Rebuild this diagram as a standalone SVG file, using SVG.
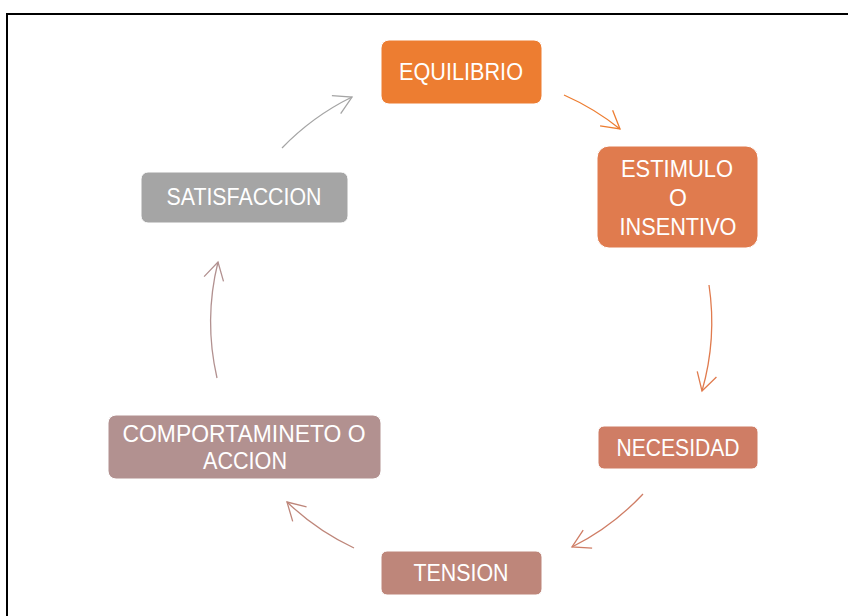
<svg xmlns="http://www.w3.org/2000/svg" width="849" height="616" viewBox="0 0 849 616">
<style>
.box{stroke:#ffffff;stroke-width:1}
.lbl{font-family:"Liberation Sans","Open Sans",Arial,sans-serif;font-size:23px;fill:#ffffff;text-anchor:middle}
.arc{fill:none;stroke-width:1.3}
</style>
<defs>
<marker id="m1" markerUnits="userSpaceOnUse" markerWidth="26" markerHeight="26" viewBox="-22 -13 26 26" refX="0" refY="0" orient="auto"><path d="M-17.5,-10 L0,0 L-17.5,10" fill="none" stroke="#ED7D31" stroke-width="1.3"/></marker>
<marker id="m2" markerUnits="userSpaceOnUse" markerWidth="26" markerHeight="26" viewBox="-22 -13 26 26" refX="0" refY="0" orient="auto"><path d="M-17.5,-10 L0,0 L-17.5,10" fill="none" stroke="#E07B4E" stroke-width="1.3"/></marker>
<marker id="m3" markerUnits="userSpaceOnUse" markerWidth="26" markerHeight="26" viewBox="-22 -13 26 26" refX="0" refY="0" orient="auto"><path d="M-17.5,-10 L0,0 L-17.5,10" fill="none" stroke="#CF7D65" stroke-width="1.3"/></marker>
<marker id="m4" markerUnits="userSpaceOnUse" markerWidth="26" markerHeight="26" viewBox="-22 -13 26 26" refX="0" refY="0" orient="auto"><path d="M-17.5,-10 L0,0 L-17.5,10" fill="none" stroke="#BE867A" stroke-width="1.3"/></marker>
<marker id="m5" markerUnits="userSpaceOnUse" markerWidth="26" markerHeight="26" viewBox="-22 -13 26 26" refX="0" refY="0" orient="auto"><path d="M-17.5,-10 L0,0 L-17.5,10" fill="none" stroke="#B29190" stroke-width="1.3"/></marker>
<marker id="m6" markerUnits="userSpaceOnUse" markerWidth="26" markerHeight="26" viewBox="-22 -13 26 26" refX="0" refY="0" orient="auto"><path d="M-17.5,-10 L0,0 L-17.5,10" fill="none" stroke="#A5A5A5" stroke-width="1.3"/></marker>
</defs>
<rect x="0" y="0" width="849" height="616" fill="#ffffff"/>
<g id="frame">
<path d="M7,616 V14 H848" fill="none" stroke="#000000" stroke-width="2"/>
</g>
<g id="connectors">
<path class="arc" stroke="#ED7D31" marker-end="url(#m1)" d="M564,95 A250,250 0 0 1 620,129"/>
<path class="arc" stroke="#E07B4E" marker-end="url(#m2)" d="M709,285 A250,250 0 0 1 702,391"/>
<path class="arc" stroke="#CF7D65" marker-end="url(#m3)" d="M643,494 A250,250 0 0 1 572,547"/>
<path class="arc" stroke="#BE867A" marker-end="url(#m4)" d="M354,548 A250,250 0 0 1 287,502"/>
<path class="arc" stroke="#B29190" marker-end="url(#m5)" d="M217,378 A250,250 0 0 1 218,262"/>
<path class="arc" stroke="#A5A5A5" marker-end="url(#m6)" d="M282,148 A250,250 0 0 1 352,97"/>
</g>
<g id="equilibrio">
<rect class="box" x="381" y="40" width="161" height="64" rx="8" fill="#ED7D31"/>
<text class="lbl" x="461" y="80" textLength="124" lengthAdjust="spacingAndGlyphs">EQUILIBRIO</text>
</g>
<g id="estimulo">
<rect class="box" x="597" y="146" width="161" height="102" rx="12" fill="#E07B4E"/>
<text class="lbl" x="677" y="177" textLength="112" lengthAdjust="spacingAndGlyphs">ESTIMULO</text>
<text class="lbl" x="678" y="206">O</text>
<text class="lbl" x="678" y="235" textLength="117" lengthAdjust="spacingAndGlyphs">INSENTIVO</text>
</g>
<g id="necesidad">
<rect class="box" x="598" y="426" width="160" height="43" rx="6" fill="#CF7D65"/>
<text class="lbl" x="678" y="456" textLength="123" lengthAdjust="spacingAndGlyphs">NECESIDAD</text>
</g>
<g id="tension">
<rect class="box" x="381" y="551" width="161" height="44" rx="6" fill="#BE867A"/>
<text class="lbl" x="461" y="581" textLength="95" lengthAdjust="spacingAndGlyphs">TENSION</text>
</g>
<g id="comportamiento">
<rect class="box" x="108" y="415" width="273" height="64" rx="8" fill="#B29190"/>
<text class="lbl" x="244" y="442" textLength="243" lengthAdjust="spacingAndGlyphs">COMPORTAMINETO O</text>
<text class="lbl" x="245" y="469" textLength="84" lengthAdjust="spacingAndGlyphs">ACCION</text>
</g>
<g id="satisfaccion">
<rect class="box" x="141" y="172" width="207" height="51" rx="7" fill="#A5A5A5"/>
<text class="lbl" x="244" y="205" textLength="155" lengthAdjust="spacingAndGlyphs">SATISFACCION</text>
</g>
</svg>
